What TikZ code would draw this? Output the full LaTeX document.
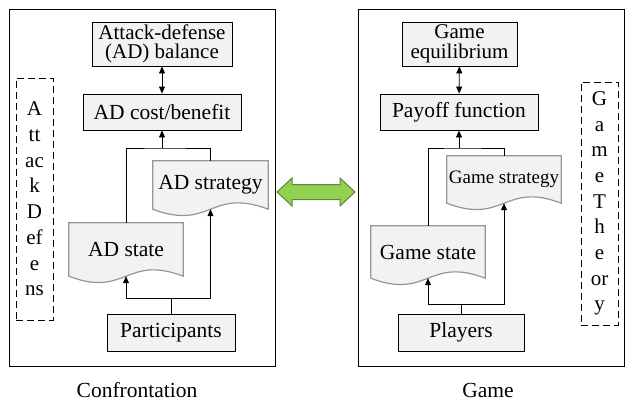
\documentclass[tikz,border=0pt]{standalone}
\usepackage{fontspec}
\setmainfont{Liberation Serif}
\usetikzlibrary{arrows.meta,calc,backgrounds}
\definecolor{boxGray}{RGB}{242,242,242}
\definecolor{docEdge}{RGB}{150,150,150}
\definecolor{linkGreen}{RGB}{146,208,80}
\definecolor{linkEdge}{RGB}{95,135,55}

\begin{document}
\begin{tikzpicture}[x=1pt, y=-1pt,
    frame/.style={rectangle, draw=black, line width=0.9pt, inner sep=0pt},
    blk/.style={rectangle, draw=black, fill=boxGray, line width=0.9pt,
                inner sep=0pt, align=center,
                font=\fontsize{21}{19.5}\selectfont},
    docbox/.style={rectangle, inner sep=0pt,
                   font=\fontsize{21.5}{22}\selectfont},
    docline/.style={draw=docEdge, fill=boxGray, line width=1.2pt},
    vlabel/.style={rectangle, draw=black, dash pattern=on 7pt off 4pt,
                   line width=0.9pt, inner sep=0pt, align=center,
                   font=\fontsize{21}{25.7}\selectfont},
    caption/.style={font=\fontsize{21.5}{22}\selectfont},
    arr/.style={-{Triangle[length=7pt,width=6pt]}, line width=0.9pt},
    darr/.style={{Triangle[length=7pt,width=6pt]}-{Triangle[length=7pt,width=6pt]},
                 line width=0.9pt}
  ]
  \useasboundingbox (0,0) rectangle (639,404);

  % two frames
  \node[frame, minimum width=266, minimum height=357] (fconf) at (142,187.5) {};
  \node[frame, minimum width=266, minimum height=357] (fgame) at (491,187.5) {};

  % confrontation side
  \node[blk, minimum width=140, minimum height=44] (bal) at (162,44)
       {Attack-defense\\(AD) balance};
  \node[blk, minimum width=158, minimum height=36,
        font=\fontsize{21.5}{22}\selectfont] (cost) at (162,112) {AD cost/benefit};
  \node[docbox, minimum width=115, minimum height=48] (adstr) at (210.5,185) {AD strategy};
  \node[docbox, minimum width=114, minimum height=53] (adsta) at (126,249.5) {AD state};
  \node[blk, minimum width=128, minimum height=37,
        font=\fontsize{21.5}{22}\selectfont] (part) at (171,332.5) {Participants};
  \node[vlabel, minimum width=37, minimum height=242] (lvert) at (34.5,199)
       {A\\tt\\ac\\k\\D\\ef\\e\\ns};

  % game side
  \node[blk, minimum width=115, minimum height=44] (equ) at (459.5,44)
       {Game\\equilibrium};
  \node[blk, minimum width=158, minimum height=36,
        font=\fontsize{21.5}{22}\selectfont] (pay) at (459,112) {Payoff function};
  \node[docbox, minimum width=114, minimum height=47,
        font=\fontsize{19}{20}\selectfont] (gmstr) at (504,179.5) {Game strategy};
  \node[docbox, minimum width=114, minimum height=52] (gmsta) at (428,252) {Game state};
  \node[blk, minimum width=126, minimum height=37,
        font=\fontsize{21.5}{22}\selectfont] (play) at (461,332.5) {Players};
  \node[vlabel, minimum width=37, minimum height=243] (rvert) at (599.5,203.5)
       {G\\a\\m\\e\\T\\h\\e\\or\\y};

  % wavy document shapes
  \begin{pgfonlayer}{background}
    \foreach \n in {adstr,adsta,gmstr,gmsta}
      \draw[docline] (\n.north west) -- (\n.north east) -- (\n.south east)
        .. controls ($(\n.south)+(0,-22)$) and ($(\n.south)+(0,22)$) .. (\n.south west)
        -- cycle;
  \end{pgfonlayer}

  % connectors
  \coordinate (ljoin) at (162,148);
  \coordinate (lsplit) at (171,298);
  \coordinate (rjoin) at (459,148);
  \coordinate (rsplit) at (461,304);

  \draw[darr] (bal) -- (cost);
  \draw[line width=0.9pt] (adsta.north) |- (ljoin) -| (adstr.north);
  \draw[arr] (ljoin) -- (cost.south);
  \draw[line width=0.9pt] (part.north) -- (lsplit);
  \draw[arr] (lsplit) -| (adsta.south);
  \draw[arr] (lsplit) -| (adstr.south);

  \draw[darr] (equ) -- (pay);
  \draw[line width=0.9pt] (gmsta.north) |- (rjoin) -| (gmstr.north);
  \draw[arr] (rjoin) -- (pay.south);
  \draw[line width=0.9pt] (play.north) -- (rsplit);
  \draw[arr] (rsplit) -| (gmsta.south);
  \draw[arr] (rsplit) -| (gmstr.south);

  % link between the two frames
  \draw[fill=linkGreen, draw=linkEdge, line width=1pt]
    (277,192) -- (292,178) -- (292,184.5) -- (340,184.5) -- (340,178)
    -- (355,192) -- (340,206) -- (340,199.5) -- (292,199.5) -- (292,206) -- cycle;

  \node[caption] (lconf) at (137,390) {Confrontation};
  \node[caption] (lgame) at (488,390) {Game};
\end{tikzpicture}
\end{document}
